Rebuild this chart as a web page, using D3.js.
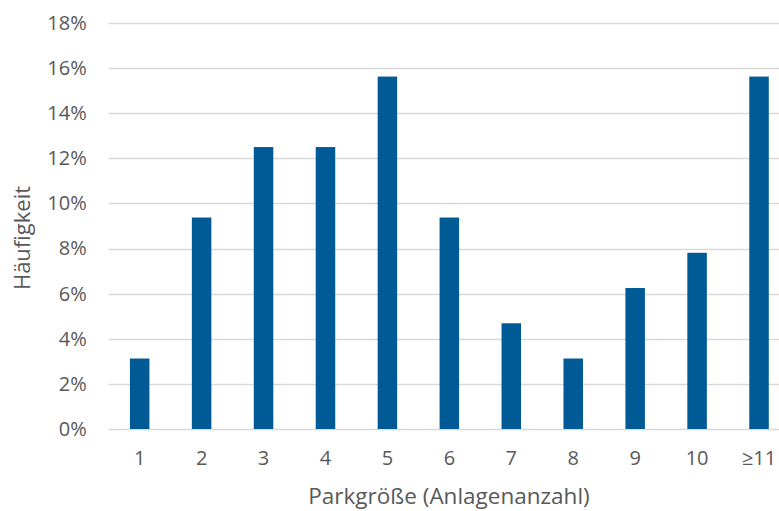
<!DOCTYPE html>
<html>
<head>
<meta charset="utf-8">
<script src="https://cdn.jsdelivr.net/npm/d3@7"></script>
<style>
  html, body { margin: 0; padding: 0; background: #fff; }
  svg { display: block; }
  text { font-family: "Open Sans", sans-serif; fill: #595959; }
</style>
</head>
<body>
<div id="chart"></div>
<script>
// Park size categories (number of turbines) and their relative frequency
const categories = ["1", "2", "3", "4", "5", "6", "7", "8", "9", "10", "≥11"];
const frequency = [0.03125, 0.09375, 0.125, 0.125, 0.15625, 0.09375, 0.046875, 0.03125, 0.0625, 0.078125, 0.15625];
const yTicks = [0, 0.02, 0.04, 0.06, 0.08, 0.10, 0.12, 0.14, 0.16, 0.18];

const width = 779, height = 511;
const margin = { top: 23, left: 108.7, bottom: 82, right: -11 };

const svg = d3.select("#chart").append("svg")
  .attr("width", width).attr("height", height);

const x = d3.scaleBand()
  .domain(categories)
  .range([margin.left, width - margin.right])
  .paddingInner(0.685)
  .paddingOuter(0.3425);

const y = d3.scaleLinear()
  .domain([0, 0.18])
  .range([height - margin.bottom, margin.top]);

// horizontal gridlines
svg.append("g")
  .selectAll("line")
  .data(yTicks)
  .join("line")
  .attr("x1", margin.left)
  .attr("x2", width)
  .attr("y1", d => Math.round(y(d)) + 0.5)
  .attr("y2", d => Math.round(y(d)) + 0.5)
  .attr("stroke", "#d9d9d9")
  .attr("stroke-width", 1.5);

// y axis labels
const yAxis = d3.axisLeft(y)
  .tickValues(yTicks)
  .tickFormat(d3.format(".0%"))
  .tickSize(0)
  .tickPadding(22);
svg.append("g")
  .attr("transform", `translate(${margin.left},0)`)
  .call(yAxis)
  .call(g => g.select(".domain").remove())
  .call(g => g.selectAll("text")
    .attr("font-family", "Open Sans, sans-serif")
    .attr("font-size", 20)
    .attr("fill", "#595959"));

// bars
svg.append("g")
  .selectAll("rect")
  .data(categories.map((c, i) => ({ c, v: frequency[i] })))
  .join("rect")
  .attr("x", d => x(d.c))
  .attr("width", x.bandwidth())
  .attr("y", d => y(d.v))
  .attr("height", d => y(0) - y(d.v))
  .attr("fill", "#005a96");

// x axis labels
const xAxis = d3.axisBottom(x).tickSize(0).tickPadding(22);
svg.append("g")
  .attr("transform", `translate(0,${y(0)})`)
  .call(xAxis)
  .call(g => g.select(".domain").remove())
  .call(g => g.selectAll("text")
    .attr("font-family", "Open Sans, sans-serif")
    .attr("font-size", 20)
    .attr("fill", "#595959"));

// axis titles
svg.append("text")
  .attr("x", 449)
  .attr("y", 504)
  .attr("text-anchor", "middle")
  .attr("font-size", 22.5)
  .text("Parkgröße (Anlagenanzahl)");

svg.append("text")
  .attr("transform", "translate(30,238) rotate(-90)")
  .attr("text-anchor", "middle")
  .attr("font-size", 22)
  .text("Häufigkeit");
</script>
</body>
</html>
